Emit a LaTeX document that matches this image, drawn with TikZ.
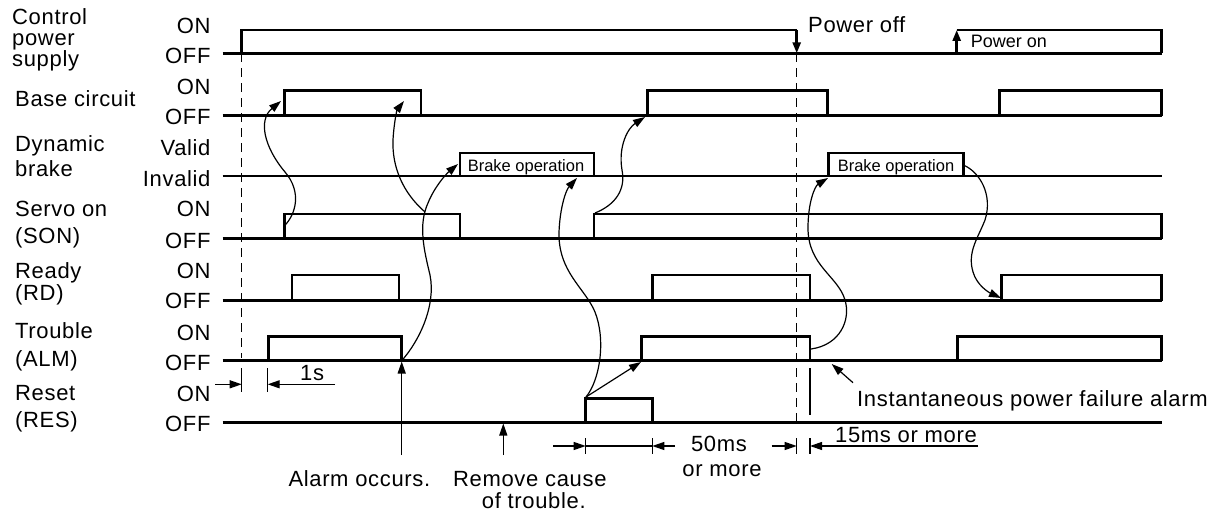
\documentclass[tikz,border=0pt]{standalone}
\usepackage{fontspec}
\setmainfont{Liberation Sans}
\newfontfamily\lblfont{Liberation Sans}[LetterSpace=3]
\newfontfamily\boxfont{Liberation Sans}
\usetikzlibrary{arrows.meta}
\newcommand\pulsebox[4]{\draw[sig] (#1,#4) |- (#2,#3) -- (#2,#4);}
\begin{document}
\begin{tikzpicture}[x=1pt,y=-1pt,
  sig/.style={line width=2.6pt},
  thinln/.style={line width=1.2pt},
  arr/.style={line width=1.2pt,-{Triangle[length=12pt,width=8pt]}},
  dashln/.style={line width=1.3pt,dash pattern=on 9pt off 6pt},
  lbl/.style={inner sep=0pt,font=\lblfont\fontsize{22}{20}\selectfont},
  lw/.style={lbl,anchor=base west},
  le/.style={lbl,anchor=base east},
  boxtxt/.style={inner sep=0pt,anchor=base,font=\boxfont\fontsize{16.5}{18}\selectfont},
]
\fill[white] (0,0) rectangle (1220,513);
\useasboundingbox (0,0) rectangle (1220,513);

% ---- left labels
\node[lw] (l1a) at (12,25) {Control};
\node[lw] (l1b) at (12,45.5) {power};
\node[lw] (l1c) at (12,66.5) {supply};
\node[lw] (l2) at (15,106.7) {Base circuit};
\node[lw] (l3a) at (15,151.7) {Dynamic};
\node[lw] (l3b) at (15,177) {brake};
\node[lw] (l4a) at (15,216) {Servo on};
\node[lw] (l4b) at (15,243) {(SON)};
\node[lw] (l5a) at (15,278.3) {Ready};
\node[lw] (l5b) at (15,300.3) {(RD)};
\node[lw] (l6a) at (15,338.3) {Trouble};
\node[lw] (l6b) at (15,366) {(ALM)};
\node[lw] (l7a) at (15,400) {Reset};
\node[lw] (l7b) at (15,427) {(RES)};

% ---- state labels
\node[le] (s1a) at (210.7,33.3) {ON};
\node[le] (s1b) at (210.7,63.3) {OFF};
\node[le] (s2a) at (210.7,94.3) {ON};
\node[le] (s2b) at (210.7,125) {OFF};
\node[le] (s3a) at (210.7,156) {Valid};
\node[le] (s3b) at (210.7,186) {Invalid};
\node[le] (s4a) at (210.7,216.7) {ON};
\node[le] (s4b) at (210.7,248.3) {OFF};
\node[le] (s5a) at (210.7,278.3) {ON};
\node[le] (s5b) at (210.7,308.3) {OFF};
\node[le] (s6a) at (210.7,340) {ON};
\node[le] (s6b) at (210.7,370.7) {OFF};
\node[le] (s7a) at (210.7,401) {ON};
\node[le] (s7b) at (210.7,431.7) {OFF};

% ---- baselines
\foreach \y in {53.3,115.7,176,238.7,300.7,360.7,422.3}
  \draw[sig] (222.7,\y) -- (1161.7,\y);

% ---- control power supply
\draw[sig] (241.7,53.3) |- (796.7,30);
\coordinate (poff) at (796.7,53.3);
\draw[sig,-{Triangle[length=11pt,width=8pt]}] (796.7,30) -- (poff);
\coordinate (pon) at (956.7,30);
\draw[sig,-{Triangle[length=11pt,width=8pt]}] (956.7,53.3) -- (pon);
\draw[sig] (pon) -- (1161.7,30) -- (1161.7,53.3);
\node[lw] (poweroff) at (808,33) {Power off};
\node[boxtxt,anchor=base west,font=\boxfont\fontsize{18}{20}\selectfont] (poweron) at (970.7,48) {Power on};

% ---- base circuit
\pulsebox{284.3}{421}{90.7}{115.7}
\pulsebox{647.3}{827.3}{90.7}{115.7}
\pulsebox{999.3}{1161.7}{90.7}{115.7}

% ---- dynamic brake
\pulsebox{460}{594}{153}{176}
\pulsebox{828.3}{963.3}{153}{176}
\node[boxtxt] (brk1) at (526,171.5) {Brake operation};
\node[boxtxt] (brk2) at (896,171.5) {Brake operation};

% ---- servo on
\pulsebox{284.3}{460}{214}{238.7}
\pulsebox{594}{1161.7}{214}{238.7}

% ---- ready
\pulsebox{292}{399}{275}{300.7}
\pulsebox{652.3}{810}{275}{300.7}
\pulsebox{1001.7}{1161.7}{275}{300.7}

% ---- trouble
\pulsebox{268.3}{401.7}{336.7}{360.7}
\pulsebox{641.7}{810}{336.7}{360.7}
\pulsebox{957.3}{1161.7}{336.7}{360.7}

% ---- reset
\pulsebox{585.7}{652.3}{398.3}{422.3}

% ---- dashed guide lines
\draw[dashln] (241.7,53.3) -- (241.7,358);
\draw[dashln] (796.7,53.3) -- (796.7,422.3);

% ---- cause/effect curves
\draw[arr] (284.3,226) .. controls (296,214) and (302,192) .. (285,172)
  .. controls (264,147) and (258,120) .. (281,101);
\draw[arr] (425,212) .. controls (402,192) and (392,166) .. (393,140)
  .. controls (394,122) and (397,110) .. (404,101);
\draw[arr] (401.7,360.7) .. controls (420,340) and (436,305) .. (430,275)
  .. controls (424,250) and (418,225) .. (428,203)
  .. controls (434,188) and (445,175) .. (458,164);
\draw[arr] (595,213) .. controls (615,205) and (626,190) .. (622,170)
  .. controls (618,146) and (628,128) .. (645,117);
\draw[arr] (586,397) .. controls (600,380) and (606,340) .. (595,312)
  .. controls (585,288) and (558,272) .. (559,232)
  .. controls (560,207) and (566,190) .. (577,178);
\draw[arr] (586,397) -- (641,362);
\draw[arr] (811,349) .. controls (840,345) and (851,320) .. (845,300)
  .. controls (838,276) and (808,266) .. (808,228)
  .. controls (808,202) and (815,186) .. (828,178);
\draw[arr] (963.3,165) .. controls (980,172) and (993,195) .. (985,220)
  .. controls (978,238) and (967,252) .. (973,272)
  .. controls (977,286) and (990,293) .. (1001,298);

% ---- event arrows
\draw[arr] (401.7,455) -- (401.7,361.5);
\draw[arr] (503.3,455) -- (503.3,423.5);
\draw[arr] (853,382.7) -- (831.7,364);
\node[lw] (alarm) at (288.3,486.7) {Alarm occurs.};
\node[lw] (remove1) at (453,486) {Remove cause};
\node[lw] (remove2) at (481.7,508) {of trouble.};
\node[lw] (ipf) at (857,406.7) {Instantaneous power failure alarm};

% ---- dimensions
\draw[thinln] (241.7,368) -- (241.7,392);
\draw[thinln] (267.7,368) -- (267.7,392);
\draw[arr] (215,384.3) -- (241.7,384.3);
\draw[arr] (335,384.3) -- (267.7,384.3);
\node[lw] (t1s) at (300,380.7) {1s};

\draw[thinln] (585.7,438) -- (585.7,454);
\draw[thinln] (652.3,438) -- (652.3,454);
\draw[thinln] (585.7,446) -- (652.3,446);
\draw[arr] (553,446) -- (585.7,446);
\draw[arr] (675,446) -- (652.3,446);
\node[lbl,anchor=base] (t50a) at (719,451.7) {50ms};
\node[lbl,anchor=base] (t50b) at (722,476.7) {or more};

\draw[thinln] (796.7,438) -- (796.7,454);
\draw[thinln] (810,368) -- (810,415);
\draw[thinln] (810,438) -- (810,454);
\draw[arr] (771.7,446) -- (796.7,446);
\draw[arr] (978,446) -- (810,446);
\node[lw] (t15) at (835,442.7) {15ms or more};
\end{tikzpicture}
\end{document}
